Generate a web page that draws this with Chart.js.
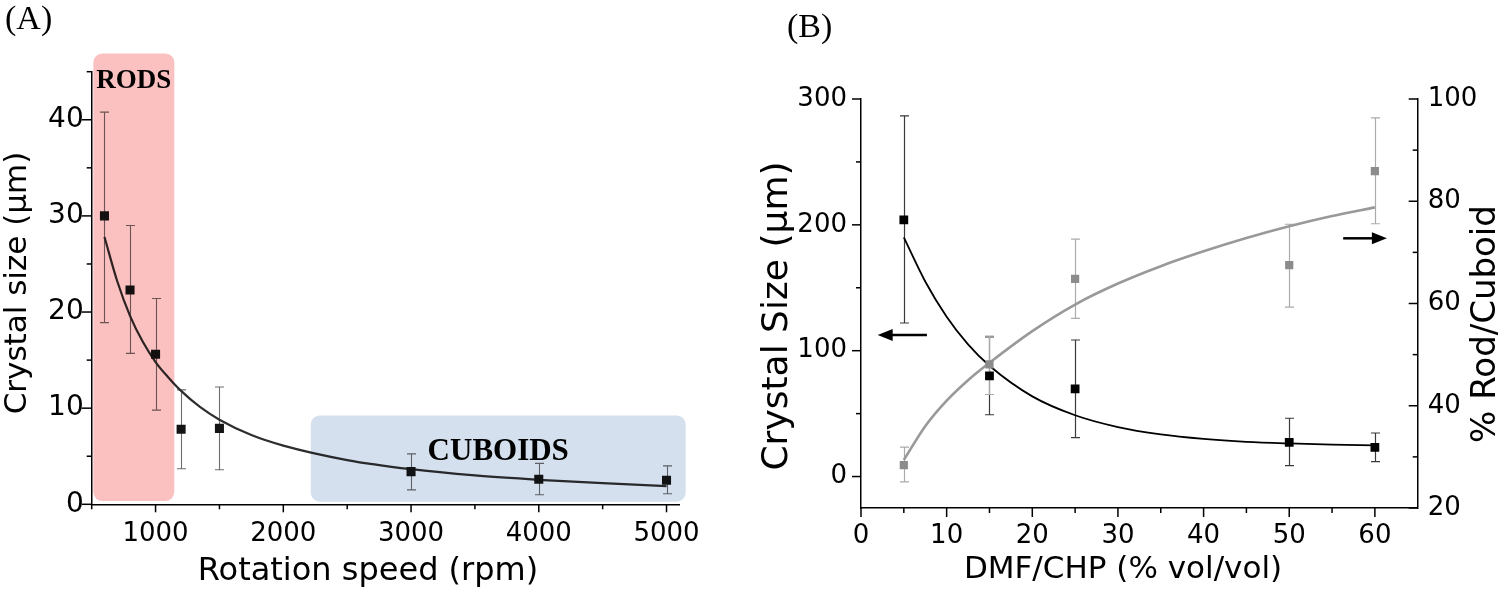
<!DOCTYPE html>
<html><head><meta charset="utf-8">
<script src="https://cdn.jsdelivr.net/npm/chart.js@4.4.1/dist/chart.umd.min.js"></script>
<style>
html,body{margin:0;padding:0;background:#fff;width:1500px;height:591px;overflow:hidden}
#wa{position:absolute;left:0;top:0;width:730px;height:591px}
#wb{position:absolute;left:740px;top:0;width:760px;height:591px}
</style></head><body>
<div id="wa"><canvas id="ca" width="730" height="591"></canvas></div>
<div id="wb"><canvas id="cb" width="760" height="591"></canvas></div>
<script>
// ---------- Panel A data ----------
const speedRpm     = [600, 800, 1000, 1200, 1500, 3000, 4000, 5000];
const sizeUm       = [30.0, 22.3, 15.6, 7.8, 7.9, 3.4, 2.6, 2.5];
const sizeErrLow   = [18.9, 15.7, 9.8, 3.7, 3.6, 1.5, 1.0, 1.1];
const sizeErrHigh  = [40.8, 29.0, 21.4, 11.9, 12.2, 5.25, 4.26, 4.0];
const fitSpeed     = [600, 700, 800, 900, 1000, 1100, 1200, 1350, 1500, 1750, 2000, 2500, 3000, 3500, 4000, 4500, 5000];
const fitSize      = [27.8, 23.2, 19.6, 16.9, 14.8, 13.2, 11.8, 10.1, 8.8, 7.2, 6.1, 4.6, 3.65, 3.0, 2.55, 2.2, 1.9];
const regionNames  = ['RODS', 'CUBOIDS'];
const regionX0     = [513, 2215];
const regionX1     = [1147, 5150];
const regionY0     = [0.34, 0.27];
const regionY1     = [46.9, 9.24];
const regionLabelY = [43.3, 4.57];
const aXMajor = [1000, 2000, 3000, 4000, 5000];
const aXMinor = [500, 1500, 2500, 3500, 4500];
const aYMajor = [0, 10, 20, 30, 40];
const aYMinor = [5, 15, 25, 35, 45];

// ---------- Panel B data ----------
const dmfPct       = [5, 15, 25, 50, 60];
const crystalSize  = [204, 80, 69.6, 27.2, 23.2];
const crystalLow   = [122, 49.1, 30.9, 8.6, 11.8];
const crystalHigh  = [286.6, 111, 108.5, 46.3, 34.6];
const rodPct       = [28.4, 48.1, 64.8, 67.5, 85.9];
const rodLow       = [25.1, 42.2, 57.1, 59.3, 75.6];
const rodHigh      = [31.9, 53.6, 72.6, 75.5, 96.3];
const fitDmf       = [5, 7.5, 10, 12.5, 15, 20, 25, 30, 35, 40, 45, 50, 55, 60];
const fitCrystal   = [190, 155, 127, 105, 88, 63.7, 48.7, 39.3, 33.5, 29.9, 27.6, 26.3, 25.4, 24.8];
const fitRod       = [29.4, 36.0, 41.0, 45.0, 48.4, 54.6, 59.8, 63.9, 67.3, 70.2, 72.8, 75.1, 77.1, 78.8];
const arrowTail    = [7.7, 56.3];
const arrowTip     = [1.95, 61.4];
const arrowLevel   = [112.5, 189.3];
const bXMajor  = [0, 10, 20, 30, 40, 50, 60];
const bXMinor  = [5, 15, 25, 35, 45, 55];
const bYMajor  = [0, 100, 200, 300];
const bYMinor  = [50, 150, 250];
const bY2Major = [20, 40, 60, 80, 100];
const bY2Minor = [30, 50, 70, 90];

const SANS = 'DejaVu Sans';
const SERIF = 'Liberation Serif';

function pts(xs, ys){ return ys.map((v,i)=>({x:xs[i], y:v})); }

// ---------- plugins ----------
const errorBars = {
  id:'errorBars',
  beforeDatasetsDraw(chart){
    const ctx = chart.ctx;
    chart.data.datasets.forEach((ds,i)=>{
      if(!ds.errLow) return;
      const meta = chart.getDatasetMeta(i);
      const xs = chart.scales[meta.xAxisID], ys = chart.scales[meta.yAxisID];
      ctx.save();
      ctx.strokeStyle = ds.errColor; ctx.lineWidth = ds.errWidth;
      ds.data.forEach((p,k)=>{
        const x = Math.round(xs.getPixelForValue(p.x))+0.5;
        const y0 = ys.getPixelForValue(ds.errLow[k]);
        const y1 = ys.getPixelForValue(ds.errHigh[k]);
        const c = ds.capHalf;
        ctx.beginPath();
        ctx.moveTo(x,y0); ctx.lineTo(x,y1);
        ctx.moveTo(x-c,y0); ctx.lineTo(x+c,y0);
        ctx.moveTo(x-c,y1); ctx.lineTo(x+c,y1);
        ctx.stroke();
      });
      ctx.restore();
    });
  }
};

const tickMarks = {
  id:'tickMarks',
  afterDraw(chart, args, opts){
    const ctx = chart.ctx;
    ctx.save(); ctx.strokeStyle = '#000'; ctx.lineWidth = 1.5;
    (opts.list||[]).forEach(cfg=>{
      const s = chart.scales[cfg.scale];
      const draw = (vals, len)=>vals.forEach(v=>{
        const p = s.getPixelForValue(v);
        ctx.beginPath();
        if (s.isHorizontal()) { ctx.moveTo(p, s.top); ctx.lineTo(p, s.top + len); }
        else {
          const ax = s.position === 'left' ? s.right : s.left;
          ctx.moveTo(ax, p); ctx.lineTo(ax - len, p);
        }
        ctx.stroke();
      });
      draw(cfg.major, cfg.len[0]);
      draw(cfg.minor, cfg.len[1]);
    });
    ctx.restore();
  }
};

const axisTitles = {
  id:'axisTitles',
  afterDraw(chart, args, opts){
    const ctx = chart.ctx;
    (opts.list||[]).forEach(t=>{
      ctx.save();
      ctx.fillStyle = '#000';
      ctx.font = t.size + 'px "' + (t.serif ? SERIF : SANS) + '"';
      ctx.translate(t.x, t.y);
      if (t.rot) ctx.rotate(t.rot);
      ctx.textAlign = t.align || 'center';
      ctx.textBaseline = t.baseline || 'middle';
      ctx.fillText(t.text, 0, 0);
      ctx.restore();
    });
  }
};

const regionsPlugin = {
  id:'regions',
  afterDatasetsDraw(chart, args, opts){
    const ctx = chart.ctx, xs = chart.scales.x, ys = chart.scales.y;
    ctx.save();
    ctx.globalCompositeOperation = 'multiply';
    regionNames.forEach((n,i)=>{
      const x0 = xs.getPixelForValue(regionX0[i]), x1 = xs.getPixelForValue(regionX1[i]);
      const y0 = ys.getPixelForValue(regionY1[i]), y1 = ys.getPixelForValue(regionY0[i]);
      ctx.fillStyle = opts.colors[i];
      ctx.beginPath();
      ctx.roundRect(x0, y0, x1-x0, y1-y0, 9);
      ctx.fill();
    });
    ctx.restore();
    ctx.save();
    ctx.fillStyle = '#000'; ctx.textAlign = 'center'; ctx.textBaseline = 'alphabetic';
    regionNames.forEach((n,i)=>{
      const x0 = xs.getPixelForValue(regionX0[i]), x1 = xs.getPixelForValue(regionX1[i]);
      ctx.font = 'bold ' + opts.fontSizes[i] + 'px "' + SERIF + '"';
      ctx.fillText(n, (x0+x1)/2, ys.getPixelForValue(regionLabelY[i]));
    });
    ctx.restore();
  }
};

const arrowsPlugin = {
  id:'arrows',
  afterDatasetsDraw(chart){
    const ctx = chart.ctx, xs = chart.scales.x, ys = chart.scales.y;
    ctx.save();
    ctx.strokeStyle = '#000'; ctx.fillStyle = '#000'; ctx.lineWidth = 2.5;
    arrowTip.forEach((t,i)=>{
      const xt = xs.getPixelForValue(t), xf = xs.getPixelForValue(arrowTail[i]);
      const y = ys.getPixelForValue(arrowLevel[i]);
      const dir = Math.sign(xt - xf), head = 15, hh = 6;
      ctx.beginPath(); ctx.moveTo(xf, y); ctx.lineTo(xt - dir*head*0.8, y); ctx.stroke();
      ctx.beginPath(); ctx.moveTo(xt, y); ctx.lineTo(xt - dir*head, y - hh); ctx.lineTo(xt - dir*head, y + hh); ctx.closePath(); ctx.fill();
    });
    ctx.restore();
  }
};

function axisCommon(extra){
  return Object.assign({
    type:'linear',
    grid:{display:true, drawOnChartArea:false, drawTicks:false},
    border:{display:true, color:'#000', width:1.5},
  }, extra);
}

// ---------- Chart A ----------
new Chart(document.getElementById('ca'), {
  type:'scatter',
  data:{ datasets:[
    { data: pts(speedRpm, sizeUm), pointStyle:'rect', pointRadius:6.4, pointHoverRadius:6.4,
      backgroundColor:'#141414', borderWidth:0,
      errLow: sizeErrLow, errHigh: sizeErrHigh, errColor:'#6e6e6e', errWidth:1.1, capHalf:4.5 },
    { data: pts(fitSpeed, fitSize), showLine:true, pointRadius:0, borderColor:'#2e2e2e',
      borderWidth:2.2, cubicInterpolationMode:'monotone', fill:false }
  ]},
  options:{
    responsive:false, animation:false, devicePixelRatio:1,
    layout:{padding:{left:0, top:71.7, right:50.7, bottom:0}},
    plugins:{ legend:{display:false}, tooltip:{enabled:false},
      regions:{ colors:['#fbc1c1', '#d5e0ee'], fontSizes:[27, 31] },
      tickMarks:{ list:[
        {scale:'x', major:aXMajor, minor:aXMinor, len:[8,5]},
        {scale:'y', major:aYMajor, minor:aYMinor, len:[10,5]}
      ]},
      axisTitles:{ list:[
        {text:'(A)', x:5, y:29, size:34, serif:true, align:'left', baseline:'alphabetic'},
        {text:'Rotation speed (rpm)', x:368, y:572, size:32},
        {text:'Crystal size (μm)', x:17.5, y:283, size:31, rot:-Math.PI/2}
      ]}
    },
    scales:{
      x: axisCommon({ min:500, max:5100,
        afterBuildTicks: s => { s.ticks = aXMajor.map(v=>({value:v})); },
        afterFit: s => { s.height = 591 - 504.3; },
        ticks:{ color:'#000', padding:14, maxRotation:0, autoSkip:false,
          font:{family:SANS, size:26}, callback: v => String(v) }
      }),
      y: axisCommon({ min:0, max:45,
        afterBuildTicks: s => { s.ticks = aYMajor.map(v=>({value:v})); },
        afterFit: s => { s.width = 91.7; },
        ticks:{ color:'#000', padding:8, autoSkip:false,
          font:{family:SANS, size:28}, callback: v => String(v) }
      })
    }
  },
  plugins:[errorBars, regionsPlugin, tickMarks, axisTitles]
});

// ---------- Chart B ----------
new Chart(document.getElementById('cb'), {
  type:'scatter',
  data:{ datasets:[
    { data: pts(dmfPct, crystalSize), yAxisID:'y', pointStyle:'rect', pointRadius:6.2, pointHoverRadius:6.2,
      backgroundColor:'#000', borderWidth:0,
      errLow: crystalLow, errHigh: crystalHigh, errColor:'#3a3a3a', errWidth:1.2, capHalf:4.5 },
    { data: pts(dmfPct, rodPct), yAxisID:'y2', pointStyle:'rect', pointRadius:5.8, pointHoverRadius:5.8,
      backgroundColor:'#8c8c8c', borderWidth:0,
      errLow: rodLow, errHigh: rodHigh, errColor:'#ababab', errWidth:1.2, capHalf:4.5 },
    { data: pts(fitDmf, fitCrystal), yAxisID:'y', showLine:true, pointRadius:0, borderColor:'#000',
      borderWidth:1.8, cubicInterpolationMode:'monotone', fill:false },
    { data: pts(fitDmf, fitRod), yAxisID:'y2', showLine:true, pointRadius:0, borderColor:'#999',
      borderWidth:2.6, cubicInterpolationMode:'monotone', fill:false }
  ]},
  options:{
    responsive:false, animation:false, devicePixelRatio:1,
    layout:{padding:{left:0, top:99, right:0, bottom:0}},
    plugins:{ legend:{display:false}, tooltip:{enabled:false},
      tickMarks:{ list:[
        {scale:'x', major:bXMajor, minor:bXMinor, len:[9,5]},
        {scale:'y', major:bYMajor, minor:bYMinor, len:[9,5]},
        {scale:'y2', major:bY2Major, minor:bY2Minor, len:[9,5]}
      ]},
      axisTitles:{ list:[
        {text:'(B)', x:47, y:37, size:34, serif:true, align:'left', baseline:'alphabetic'},
        {text:'DMF/CHP (% vol/vol)', x:383, y:569.5, size:31},
        {text:'Crystal Size (μm)', x:37.5, y:316, size:36, rot:-Math.PI/2},
        {text:'% Rod/Cuboid', x:746, y:324, size:34, rot:-Math.PI/2}
      ]}
    },
    scales:{
      x: axisCommon({ min:0, max:65,
        afterBuildTicks: s => { s.ticks = bXMajor.map(v=>({value:v})); },
        afterFit: s => { s.height = 591 - 508; },
        ticks:{ color:'#000', padding:13, maxRotation:0, autoSkip:false,
          font:{family:SANS, size:26}, callback: v => String(v) }
      }),
      y: axisCommon({ position:'left', min:-25, max:300,
        afterBuildTicks: s => { s.ticks = bYMajor.map(v=>({value:v})); },
        afterFit: s => { s.width = 121; },
        ticks:{ color:'#000', padding:14, autoSkip:false,
          font:{family:SANS, size:26}, callback: v => String(v) }
      }),
      y2: axisCommon({ position:'right', min:20, max:100,
        afterBuildTicks: s => { s.ticks = bY2Major.map(v=>({value:v})); },
        afterFit: s => { s.width = 760 - 677.7; },
        ticks:{ color:'#000', padding:10, autoSkip:false,
          font:{family:SANS, size:26}, callback: v => String(v) }
      })
    }
  },
  plugins:[errorBars, arrowsPlugin, tickMarks, axisTitles]
});
</script>
</body></html>
